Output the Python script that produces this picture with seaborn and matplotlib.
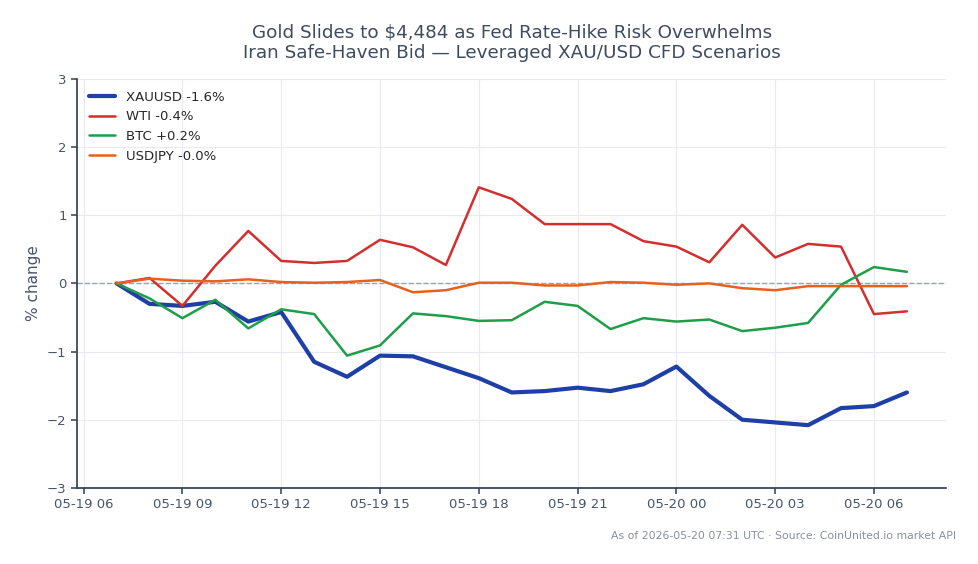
import pandas as pd
import matplotlib
matplotlib.use("Agg")
import matplotlib.pyplot as plt
import matplotlib.dates as mdates
import seaborn as sns

# hourly % change vs 05-19 07:00 UTC
start = "2026-05-19 07:00"
n_points = 25

xauusd = [0.00, -0.30, -0.33, -0.27, -0.56, -0.42, -1.15, -1.37, -1.06, -1.07,
          -1.23, -1.39, -1.60, -1.58, -1.53, -1.58, -1.48, -1.22, -1.65, -2.00,
          -2.04, -2.08, -1.83, -1.80, -1.60]
wti = [0.00, 0.08, -0.33, 0.26, 0.77, 0.33, 0.30, 0.33, 0.64, 0.53,
       0.27, 1.41, 1.24, 0.87, 0.87, 0.87, 0.62, 0.54, 0.31, 0.86,
       0.38, 0.58, 0.54, -0.45, -0.41]
btc = [0.00, -0.22, -0.51, -0.24, -0.66, -0.38, -0.45, -1.06, -0.91, -0.44,
       -0.48, -0.55, -0.54, -0.27, -0.33, -0.67, -0.51, -0.56, -0.53, -0.70,
       -0.65, -0.58, -0.02, 0.24, 0.17]
usdjpy = [0.00, 0.07, 0.04, 0.03, 0.06, 0.02, 0.01, 0.02, 0.05, -0.13,
          -0.10, 0.01, 0.01, -0.03, -0.03, 0.02, 0.01, -0.02, 0.00, -0.07,
          -0.10, -0.04, -0.04, -0.04, -0.04]

series_names = ["XAUUSD", "WTI", "BTC", "USDJPY"]
series_values = [xauusd, wti, btc, usdjpy]
colors = ["#1e3fa6", "#d32f2f", "#1f9e4a", "#e8601c"]
widths = [3.0, 1.8, 1.8, 1.8]

title = ("Gold Slides to \\$4,484 as Fed Rate-Hike Risk Overwhelms\n"
         "Iran Safe-Haven Bid \u2014 Leveraged XAU/USD CFD Scenarios")
footer = "As of 2026-05-20 07:31 UTC \u00b7 Source: CoinUnited.io market API"

times = pd.date_range(start, periods=n_points, freq="h")
frames = []
for name, vals in zip(series_names, series_values):
    frames.append(pd.DataFrame({"time": times, "pct": vals, "series": name}))
df = pd.concat(frames, ignore_index=True)

sns.set_theme(style="ticks")
plt.rcParams["font.family"] = ["DejaVu Sans"]

fig = plt.figure(figsize=(9.79, 5.64), dpi=100)
ax = fig.add_axes([0.0787, 0.135, 0.888, 0.725])

ax.axhline(0, color="#94a3b8", lw=1, ls="--", zorder=1)

for name, color, lw in zip(series_names, colors, widths):
    sub = df[df["series"] == name]
    last = sub["pct"].iloc[-1]
    sns.lineplot(data=sub, x="time", y="pct", ax=ax, color=color, lw=lw,
                 label=f"{name} {last:+.1f}%", zorder=3)

ax.set_ylim(-3, 3)
ax.xaxis.set_major_locator(mdates.HourLocator(byhour=range(0, 24, 3)))
ax.xaxis.set_major_formatter(mdates.DateFormatter("%m-%d %H"))
ax.grid(True, color="#e8eaef", lw=0.8)
ax.set_axisbelow(True)

ax.set_xlabel("")
ax.set_ylabel("% change", fontsize=11, color="#475569")
ax.tick_params(axis="both", labelsize=9.5, colors="#475569", length=4)
for side in ["left", "bottom"]:
    ax.spines[side].set_color("#334155")
for side in ["top", "right"]:
    ax.spines[side].set_visible(False)

ax.legend(loc="upper left", frameon=False, fontsize=9.5)

fig.suptitle(title, fontsize=13.2, color="#3f4b5e", x=0.523, y=0.958)
fig.text(0.977, 0.045, footer, ha="right", fontsize=7.8, color="#8a909a")

fig.savefig("out.png", dpi=100)
